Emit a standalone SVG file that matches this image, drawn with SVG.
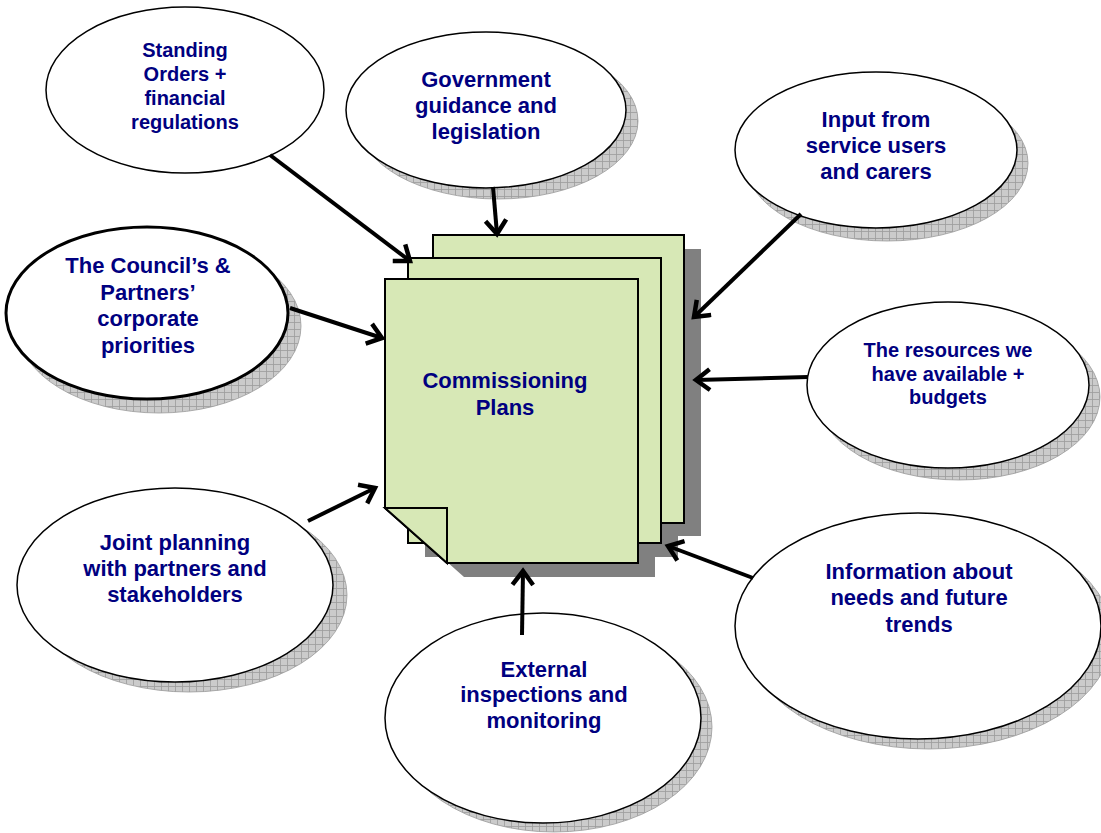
<svg xmlns="http://www.w3.org/2000/svg" width="1101" height="833" viewBox="0 0 1101 833">
<style>
.t{font-family:"Liberation Sans",Arial,sans-serif;font-weight:bold;fill:#000080;text-anchor:middle}
.f22{font-size:22px}
.f20{font-size:20px}
.el{fill:#ffffff;stroke:#000000;stroke-width:1.5}
.sh{fill:url(#grid);stroke:#9a9a9a;stroke-width:0.8}
.page{fill:#d7e8b6;stroke:#000000;stroke-width:2;stroke-linejoin:miter}
.pshadow{fill:#808080}
.conn{stroke:#000000;stroke-width:4;fill:none;marker-end:url(#arr)}
</style>
<defs>
<pattern id="grid" width="7" height="7" patternUnits="userSpaceOnUse">
<rect width="7" height="7" fill="#cbcbcb"/>
<path d="M0 0.5H7M0.5 0V7" stroke="#9c9c9c" stroke-width="0.8" fill="none"/>
</pattern>
<marker id="arr" markerUnits="userSpaceOnUse" markerWidth="30" markerHeight="30" refX="0" refY="0" orient="auto" overflow="visible" viewBox="-15 -15 30 30">
<path d="M-12,-9 L0,0 L-12,9" fill="none" stroke="#000000" stroke-width="4.5" stroke-linecap="square" stroke-linejoin="miter"/>
</marker>
</defs>
<rect width="1101" height="833" fill="#ffffff"/>

<g id="commissioning-plans">
<rect class="pshadow" x="450" y="249" width="251" height="287"/>
<rect class="pshadow" x="425" y="272" width="253" height="285"/>
<path class="pshadow" d="M402,293 H655 V577 H464 L402,522 Z"/>
<rect class="page" x="433" y="235" width="251" height="288"/>
<rect class="page" x="408" y="258" width="253" height="285"/>
<path class="page" d="M385,279 H638 V563 H447 L385,508 Z"/>
<path class="page" d="M385,508 H447 V563 Z"/>
<text class="t f22" x="505" y="388">Commissioning</text>
<text class="t f22" x="505" y="415">Plans</text>
</g>

<g id="standing-orders">
<ellipse class="el" cx="185" cy="90" rx="139" ry="83"/>
<text class="t f20" x="185" y="57">Standing</text>
<text class="t f20" x="185" y="81">Orders +</text>
<text class="t f20" x="185" y="105">financial</text>
<text class="t f20" x="185" y="129">regulations</text>
</g>

<g id="government-guidance">
<ellipse class="sh" cx="498" cy="121" rx="140" ry="78"/>
<ellipse class="el" cx="486" cy="110" rx="140" ry="78"/>
<text class="t f22" x="486" y="87">Government</text>
<text class="t f22" x="486" y="113">guidance and</text>
<text class="t f22" x="486" y="139">legislation</text>
</g>

<g id="council-priorities">
<ellipse class="sh" cx="159" cy="326" rx="142" ry="87"/>
<ellipse class="el" cx="147" cy="313" rx="141" ry="86" style="stroke-width:3"/>
<text class="t f22" x="148" y="273">The Council’s &amp;</text>
<text class="t f22" x="148" y="300">Partners’</text>
<text class="t f22" x="148" y="326">corporate</text>
<text class="t f22" x="148" y="353">priorities</text>
</g>

<g id="service-users">
<ellipse class="sh" cx="887" cy="163" rx="141" ry="78"/>
<ellipse class="el" cx="876" cy="150" rx="141" ry="78"/>
<text class="t f22" x="876" y="127">Input from</text>
<text class="t f22" x="876" y="153">service users</text>
<text class="t f22" x="876" y="179">and carers</text>
</g>

<g id="resources">
<ellipse class="sh" cx="959" cy="397" rx="141" ry="83"/>
<ellipse class="el" cx="948" cy="385" rx="141" ry="83"/>
<text class="t f20" x="948" y="357">The resources we</text>
<text class="t f20" x="948" y="381">have available +</text>
<text class="t f20" x="948" y="404">budgets</text>
</g>

<g id="needs-information">
<ellipse class="sh" cx="929" cy="636" rx="183" ry="113"/>
<ellipse class="el" cx="918" cy="626" rx="183" ry="113"/>
<text class="t f22" x="919" y="579">Information about</text>
<text class="t f22" x="919" y="605">needs and future</text>
<text class="t f22" x="919" y="632">trends</text>
</g>

<g id="joint-planning">
<ellipse class="sh" cx="189" cy="595" rx="158" ry="97"/>
<ellipse class="el" cx="175" cy="585" rx="158" ry="97"/>
<text class="t f22" x="175" y="550">Joint planning</text>
<text class="t f22" x="175" y="576">with partners and</text>
<text class="t f22" x="175" y="602">stakeholders</text>
</g>

<g id="external-inspections">
<ellipse class="sh" cx="554" cy="727" rx="158" ry="105"/>
<ellipse class="el" cx="543" cy="718" rx="158" ry="105"/>
<text class="t f22" x="544" y="677">External</text>
<text class="t f22" x="544" y="702">inspections and</text>
<text class="t f22" x="544" y="728">monitoring</text>
</g>

<g id="connectors">
<line class="conn" x1="270" y1="155" x2="410" y2="261"/>
<line class="conn" x1="493" y1="187" x2="497" y2="234"/>
<line class="conn" x1="290" y1="308" x2="382" y2="338"/>
<line class="conn" x1="801" y1="214" x2="694" y2="317"/>
<line class="conn" x1="808" y1="377" x2="696" y2="380"/>
<line class="conn" x1="753" y1="578" x2="668" y2="546"/>
<line class="conn" x1="522" y1="635" x2="523" y2="571"/>
<line class="conn" x1="308" y1="521" x2="375" y2="488"/>
</g>
</svg>
